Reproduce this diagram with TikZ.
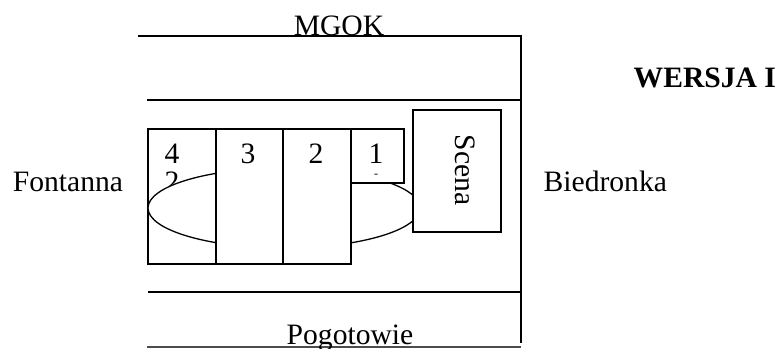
\documentclass[tikz,border=0pt]{standalone}
\usepackage{fontspec}
\setmainfont{Liberation Serif}

\tikzset{
  lbl/.style={font=\fontsize{14.8}{17}\selectfont, inner sep=0pt},
  stand/.style={draw, fill=white},
}

\begin{document}
\begin{tikzpicture}[x=0.5pt,y=-0.5pt,line width=0.65pt]
        \useasboundingbox (0,0) rectangle (780,348);

        % street lines
        \coordinate (a1) at (138,36);
        \coordinate (a2) at (521,36);
        \coordinate (b1) at (147,100);
        \coordinate (b2) at (521,100);
        \coordinate (c1) at (148,292);
        \coordinate (c2) at (521,292);
        \coordinate (d1) at (147,347);
        \coordinate (d2) at (521,347);
        \coordinate (e)  at (521,343);

        \draw (a1) -- (a2) -- (e);
        \draw (b1) -- (b2);
        \draw (c1) -- (c2);
        \draw[black!70] (d1) -- (d2);

        % stand 4 with its labels, then the ellipse over it
        \draw[stand] (148,129) rectangle (216,264);
        \begin{scope}[every node/.style={lbl, anchor=base}]
          \node (n4)  at (172,163) {4};
          \node (n4b) at (172,191) {2};
        \end{scope}

        \draw[fill=white] (284,208) ellipse [x radius=136, y radius=40];

        % remaining stands and stage
        \draw[stand] (216,129) rectangle (283,264);
        \draw[stand] (283,129) rectangle (351,264);
        \draw[stand] (351,129) rectangle (404,183);
        \draw[stand] (413,110) rectangle (501,232);

        \begin{scope}[every node/.style={lbl, anchor=base}]
          \node (n3) at (248,163) {3};
          \node (n2) at (316,163) {2};
          \node (n1) at (376,163) {1};
          \node[font=\fontsize{6}{7}\selectfont] (n1b) at (376,177) {-};
          \node[rotate=-90] (scena) at (455,170) {Scena};

          \node (mgok) at (339,35) {MGOK};
          \node (pogot) at (350,344) {Pogotowie};
          \node (font) at (68,191) {Fontanna};
          \node[anchor=base west] (bied) at (543,191) {Biedronka};
          \node[anchor=base west, font=\fontsize{14.8}{17}\selectfont\bfseries] (wersja) at (633,87) {WERSJA I};
        \end{scope}

      \end{tikzpicture}
\end{document}
